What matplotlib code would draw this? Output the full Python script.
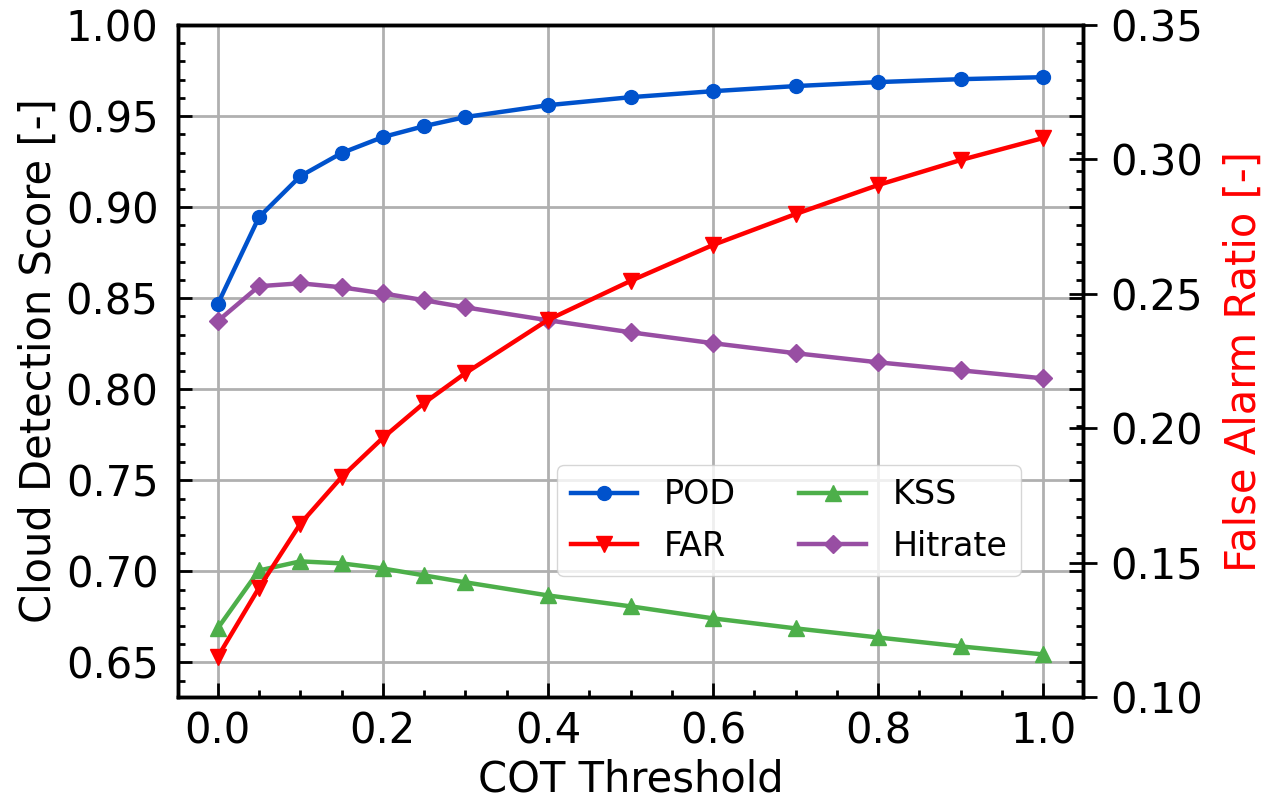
import matplotlib.pyplot as plt
from matplotlib.ticker import MultipleLocator

thresholds = [0.0, 0.05, 0.1, 0.15, 0.2, 0.25, 0.3, 0.4, 0.5, 0.6, 0.7, 0.8, 0.9, 1.0]
pod = [0.8467, 0.8945, 0.9170, 0.9297, 0.9385, 0.9445, 0.9495, 0.9560, 0.9604, 0.9637, 0.9665, 0.9687, 0.9703, 0.9714]
far = [0.1149, 0.1406, 0.1644, 0.1818, 0.1964, 0.2094, 0.2205, 0.2403, 0.2548, 0.2682, 0.2797, 0.2905, 0.2998, 0.3080]
kss = [0.6687, 0.7005, 0.7055, 0.7044, 0.7016, 0.6978, 0.6940, 0.6868, 0.6808, 0.6742, 0.6687, 0.6637, 0.6588, 0.6544]
hitrate = [0.8374, 0.8566, 0.8582, 0.8560, 0.8527, 0.8489, 0.8450, 0.8379, 0.8313, 0.8253, 0.8198, 0.8148, 0.8104, 0.8060]

fs = 30
fig = plt.figure(figsize=(12.69, 8.09), dpi=100)
ax = fig.add_axes([0.1403, 0.1384, 0.7131, 0.8306])
ax2 = ax.twinx()

l1, = ax.plot(thresholds, pod, '-o', color='#0052cc', lw=3.2, ms=10, label='POD')
l3, = ax.plot(thresholds, kss, '-^', color='#4daf4a', lw=3.2, ms=11, label='KSS')
l4, = ax.plot(thresholds, hitrate, '-D', color='#984ea3', lw=3.2, ms=9, label='Hitrate')
l2, = ax2.plot(thresholds, far, '-v', color='#ff0000', lw=3.2, ms=11, label='FAR')

ax.set_ylim(0.631, 1.0)
ax2.set_ylim(0.10, 0.35)
ax.set_xlim(-0.048, 1.048)

ax.xaxis.set_major_locator(MultipleLocator(0.2))
ax.xaxis.set_minor_locator(MultipleLocator(0.05))
ax.yaxis.set_major_locator(MultipleLocator(0.05))
ax.yaxis.set_minor_locator(MultipleLocator(0.01))
ax2.yaxis.set_major_locator(MultipleLocator(0.05))

ax.tick_params(which='both', direction='in', right=True, top=False, labelsize=fs, width=2)
ax.tick_params(which='major', length=10)
ax.tick_params(which='minor', length=5)
ax.tick_params(axis='x', pad=10)
ax.tick_params(axis='y', pad=14)
ax2.tick_params(which='major', direction='inout', length=20, width=2, labelsize=fs, pad=10)

for a in (ax, ax2):
    for s in a.spines.values():
        s.set_linewidth(2.5)

ax.grid(True, color='#b0b0b0', lw=2)
ax.set_xlabel('COT Threshold', fontsize=fs)
ax.set_ylabel('Cloud Detection Score [-]', fontsize=fs)
ax2.set_ylabel('False Alarm Ratio [-]', fontsize=fs, color='red', labelpad=14)

ax2.legend([l1, l2, l3, l4], ['POD', 'FAR', 'KSS', 'Hitrate'], ncol=2, fontsize=24,
           loc='lower left', bbox_to_anchor=(0.419, 0.18), borderaxespad=0,
           columnspacing=1.9, labelspacing=0.55)

fig.savefig('out.png')
